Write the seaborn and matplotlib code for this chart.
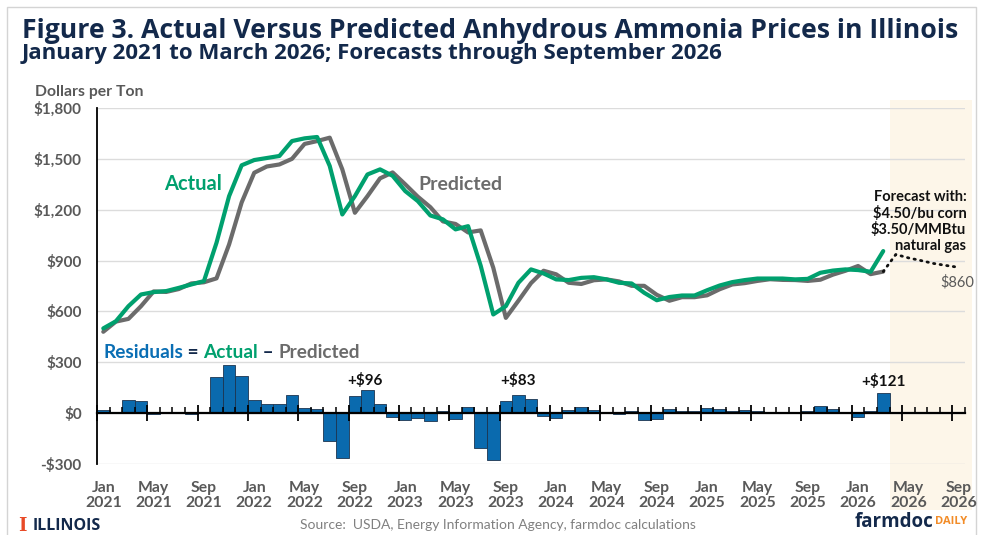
import numpy as np
import pandas as pd
import matplotlib
matplotlib.use("Agg")
import matplotlib.pyplot as plt
import matplotlib.transforms as mtransforms
from matplotlib.patches import Rectangle
import seaborn as sns

# ---------------- data ----------------
actual = [500, 542, 631, 700, 714, 720, 739, 759, 779, 1005, 1280, 1462,
          1493, 1505, 1517, 1605, 1621, 1629, 1458, 1172, 1280, 1408, 1438, 1400,
          1310, 1251, 1166, 1143, 1084, 1103, 870, 582, 631, 769, 848, 824,
          789, 785, 798, 802, 789, 769, 765, 710, 666, 685, 694, 694,
          725, 753, 773, 785, 794, 794, 794, 789, 792, 828, 841, 848,
          844, 834, 956]
predicted = [480, 540, 556, 631, 718, 715, 732, 765, 772, 795, 995, 1243,
             1418, 1455, 1467, 1500, 1588, 1605, 1625, 1438, 1182, 1280, 1385, 1420,
             1350, 1277, 1215, 1131, 1116, 1066, 1078, 858, 562, 663, 767, 840,
             819, 769, 762, 784, 789, 777, 751, 751, 698, 663, 684, 684,
             695, 731, 759, 767, 780, 790, 786, 785, 780, 787, 817, 840,
             868, 820, 835]
residuals = [20, 2, 75, 69, -8, 6, 8, -8, 8, 211, 286, 219,
             77, 51, 51, 106, 33, 24, -167, -266, 99, 138, 55, -20,
             -41, -26, -49, 12, -32, 37, -207, -276, 69, 106, 81, -16,
             -30, 16, 36, 18, 2, -8, 14, -41, -32, 22, 10, 10,
             30, 22, 14, 18, 14, 4, 8, 4, 12, 41, 24, 8,
             -24, 14, 121]
forecast = [835, 936, 916, 900, 883, 871, 860]          # Mar 2026 .. Sep 2026
tick_labels = ["Jan\n2021", "May\n2021", "Sep\n2021", "Jan\n2022", "May\n2022", "Sep\n2022",
               "Jan\n2023", "May\n2023", "Sep\n2023", "Jan\n2024", "May\n2024", "Sep\n2024",
               "Jan\n2025", "May\n2025", "Sep\n2025", "Jan\n2026", "May\n2026", "Sep\n2026"]
y_ticks = [-300, 0, 300, 600, 900, 1200, 1500, 1800]
y_tick_labels = ["-$300", "$0", "$300", "$600", "$900", "$1,200", "$1,500", "$1,800"]
callouts = [("+$96", 20.8, 192), ("+$83", 33.0, 192), ("+$121", 62.0, 188)]

# ---------------- style ----------------
sns.set_theme(style="white")
plt.rcParams["font.family"] = ["Lato", "DejaVu Sans"]
plt.rcParams["text.parse_math"] = False

NAVY = "#13294B"
GREEN = "#00A06E"
GREY_LINE = "#6B6B6B"
BAR = "#0A6AAE"
BAR_EDGE = "#1C3550"
LABEL_GREY = "#595959"
ORANGE = "#E84A27"

n = len(actual)
idx = np.arange(n)
f_idx = np.arange(n - 1, n - 1 + len(forecast))
df = pd.DataFrame({"i": idx, "actual": actual, "predicted": predicted, "resid": residuals})
dff = pd.DataFrame({"i": f_idx, "forecast": forecast})

W, H = 981, 535
fig = plt.figure(figsize=(W / 100, H / 100), dpi=100)
fig.patch.set_facecolor("white")
ax = fig.add_axes([97 / W, 1 - 464 / H, (965 - 97) / W, (464 - 108) / H])
ax.patch.set_alpha(0)

# forecast shading (spans beyond axes, behind everything)
blend = mtransforms.blended_transform_factory(ax.transData, fig.transFigure)
shade = Rectangle((n - 0.5, 1 - 510 / H), 69.05 - (n - 0.5), (510 - 100) / H,
                  transform=blend, facecolor="#FDF6E9", edgecolor="none", zorder=-5)
fig.patches.append(shade)

# outer frame
fig.patches.append(Rectangle((7 / W, -0.05), 969 / W, (H - 7) / H + 0.05,
                             transform=fig.transFigure, fill=False,
                             edgecolor="#D4D4D4", lw=1.0, zorder=-4))

# bars
sns.barplot(data=df, x="i", y="resid", native_scale=True, orient="x", width=1.0,
            color=BAR, saturation=1, edgecolor=BAR_EDGE, linewidth=0.6,
            ax=ax, zorder=3)
# lines
sns.lineplot(data=df, x="i", y="predicted", color=GREY_LINE, linewidth=3.0,
             ax=ax, zorder=4, legend=False)
sns.lineplot(data=df, x="i", y="actual", color=GREEN, linewidth=3.0,
             ax=ax, zorder=5, legend=False)
sns.lineplot(data=dff, x="i", y="forecast", color="#111111", linewidth=2.0,
             linestyle=(0, (0.5, 1.9)), dash_capstyle="round",
             ax=ax, zorder=5, legend=False)

ax.set_xlim(-0.5, 68.5)
ax.set_ylim(-300, 1800)
ax.set_xlabel("")
ax.set_ylabel("")

# y axis
ax.set_yticks(y_ticks)
ax.set_yticklabels(y_tick_labels)
ax.yaxis.grid(True, color="#DCDCDC", linewidth=1.0)
ax.set_axisbelow(True)
for s in ["top", "right", "bottom"]:
    ax.spines[s].set_visible(False)
ax.spines["left"].set_color("black")
ax.spines["left"].set_linewidth(1.3)
ax.tick_params(axis="y", which="major", direction="out", length=5, width=1.2,
               color="black", labelsize=11, labelcolor=LABEL_GREY, pad=6)
for t in ax.get_yticklabels():
    t.set_fontweight("bold")

# x labels at bottom
ax.set_xticks(np.arange(0, 69, 4))
ax.set_xticklabels(tick_labels)
ax.tick_params(axis="x", which="both", length=0, pad=12, labelsize=11.3,
               labelcolor=LABEL_GREY)
for t in ax.get_xticklabels():
    t.set_fontweight("bold")
    t.set_linespacing(1.12)

# zero axis line with ticks
zax = ax.secondary_xaxis(300 / 2100)
zax.set_xticks(np.arange(-0.5, 68, 4))
zax.set_xticks(np.arange(-0.5, 69, 1), minor=True)
zax.set_xticklabels([])
zax.tick_params(which="major", direction="inout", length=11, width=1.3, color="black")
zax.tick_params(which="minor", direction="in", length=4, width=1.1, color="black")
zax.spines["bottom"].set_color("black")
zax.spines["bottom"].set_linewidth(1.6)
zax.set_zorder(6)

# in-chart labels
ax.text(7.1, 1350, "Actual", color=GREEN, fontsize=14.5, fontweight="bold",
        ha="center", va="center", zorder=7)
ax.text(28.4, 1350, "Predicted", color=GREY_LINE, fontsize=14, fontweight="bold",
        ha="center", va="center", zorder=7)

parts = [("Residuals", "#0A6EB4"), (" = ", NAVY), ("Actual", GREEN),
         (" \u2013 ", NAVY), ("Predicted", GREY_LINE)]
prev = ax.text(0.0, 357, parts[0][0], color=parts[0][1], fontsize=13.7,
               fontweight="bold", ha="left", va="center", zorder=7)
for txt, col in parts[1:]:
    prev = ax.annotate(txt, xy=(1, 0), xycoords=prev, ha="left", va="bottom",
                       color=col, fontsize=13.7, fontweight="bold", zorder=7)

for lab, x, y in callouts:
    ax.text(x, y, lab, fontsize=11, fontweight="bold", color="#111111",
            ha="center", va="center", zorder=7)

ax.text(68.6, 1318, "Forecast with:\n$4.50/bu corn\n$3.50/MMBtu\nnatural gas",
        fontsize=10.5, fontweight="bold", color="#111111", ha="right", va="top",
        linespacing=1.15, zorder=7)
ax.text(67.9, 775, "$860", fontsize=10.5, color=LABEL_GREY, ha="center",
        va="center", zorder=7)

# titles
title = fig.text(22 / W, 1 - 37.5 / H,
                 "Figure 3. Actual Versus Predicted Anhydrous Ammonia Prices in Illinois",
                 fontsize=16, fontweight="bold", color=NAVY, ha="left", va="baseline",
                 family=["Open Sans", "DejaVu Sans"])
sub = fig.text(22 / W, 1 - 58.5 / H,
               "January 2021 to March 2026; Forecasts through September 2026",
               fontsize=13, fontweight="bold", color=NAVY, ha="left", va="baseline",
               family=["Open Sans", "DejaVu Sans"])
fig.text(35 / W, 1 - 92 / H, "Dollars per Ton", fontsize=11.3, fontweight="bold",
         color=LABEL_GREY, ha="left", va="center")

# footer
fig.text(18 / W, 1 - 526 / H, "I", fontsize=13, fontweight="bold", color=ORANGE,
         ha="left", va="center", family=["DejaVu Serif"])
fig.text(33 / W, 1 - 526 / H, "ILLINOIS", fontsize=11.5, fontweight="bold",
         color=NAVY, ha="left", va="center", family=["Open Sans", "DejaVu Sans"])
fig.text(498 / W, 1 - 525 / H,
         "Source:  USDA, Energy Information Agency, farmdoc calculations",
         fontsize=10, color="#808080", ha="center", va="center")
fd = fig.text(855 / W, 1 - 522 / H, "farmdoc", fontsize=13.5, fontweight="bold",
              color=NAVY, ha="left", va="center", family=["Open Sans", "DejaVu Sans"])
ax.annotate("DAILY", xy=(1, 0.24), xycoords=fd, xytext=(1, 0),
            textcoords="offset points", fontsize=8, fontweight="bold",
            color="#F28C28", ha="left", va="bottom", annotation_clip=False,
            family=["Open Sans", "DejaVu Sans"])

# fit title widths to reference
fig.canvas.draw()
r = fig.canvas.get_renderer()
for t, target in [(title, 935), (sub, 700)]:
    w = t.get_window_extent(r).width
    t.set_fontsize(t.get_fontsize() * target / w)

fig.savefig("out.png", dpi=100, facecolor="white")
